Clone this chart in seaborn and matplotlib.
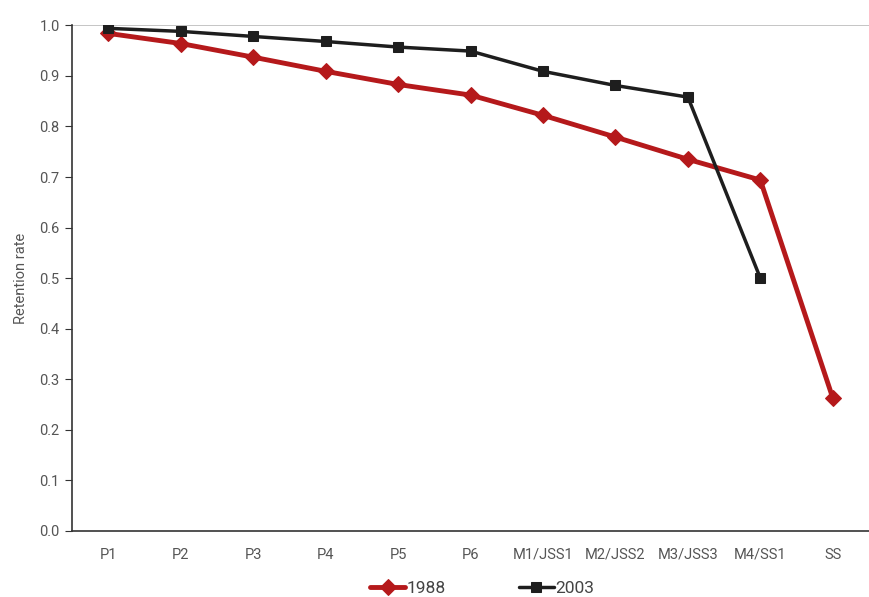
import matplotlib
matplotlib.use("Agg")
import matplotlib.pyplot as plt
import seaborn as sns
import pandas as pd
import numpy as np

grades = ["P1", "P2", "P3", "P4", "P5", "P6", "M1/JSS1", "M2/JSS2", "M3/JSS3", "M4/SS1", "SS"]
rate_1988 = [0.984, 0.964, 0.937, 0.909, 0.883, 0.862, 0.822, 0.779, 0.735, 0.694, 0.263]
rate_2003 = [0.994, 0.988, 0.978, 0.968, 0.957, 0.949, 0.909, 0.881, 0.858, 0.500, np.nan]

df = pd.DataFrame({
    "pos": list(range(len(grades))) * 2,
    "rate": rate_1988 + rate_2003,
    "year": ["1988"] * len(grades) + ["2003"] * len(grades),
}).dropna()

sns.set_style("white")
plt.rcParams["font.family"] = ["Liberation Sans Narrow", "Roboto", "DejaVu Sans"]

fig = plt.figure(figsize=(8.69, 5.97), dpi=100)
ax = fig.add_axes([0.083, 0.1106, 0.917, 0.847])

red = "#b5191b"
black = "#1e1e1e"

sns.lineplot(data=df[df.year == "1988"], x="pos", y="rate", ax=ax, color=red,
             linewidth=3.5, marker="D", markersize=8, markeredgecolor=red, label="1988")
sns.lineplot(data=df[df.year == "2003"], x="pos", y="rate", ax=ax, color=black,
             linewidth=2.5, marker="s", markersize=7, markeredgecolor=black, label="2003")

ax.set_xlim(-0.5, 10.33)
ax.set_ylim(0, 1.0)
ax.set_yticks(np.arange(0, 1.01, 0.1))
ax.set_yticklabels([f"{v:.1f}" for v in np.arange(0, 1.01, 0.1)], fontsize=10.5, color="#555555")
ax.set_xticks(range(len(grades)))
ax.set_xticklabels(grades, fontsize=10.5, color="#555555")
ax.set_xticks(np.arange(-0.5, len(grades), 1), minor=True)
ax.tick_params(axis="x", which="major", length=0, pad=12)
ax.tick_params(axis="x", which="minor", length=5, color="#333333", direction="out")
ax.tick_params(axis="y", length=5, color="#333333", direction="out", left=True, pad=4)
ax.axhline(1.0, color="#bbbbbb", linewidth=1.2, zorder=0)

for s in ["top", "right"]:
    ax.spines[s].set_visible(False)
for s in ["left", "bottom"]:
    ax.spines[s].set_color("#333333")
    ax.spines[s].set_linewidth(1.2)

ax.set_xlabel("")
ax.set_ylabel("Retention rate", fontsize=10.5, color="#555555", labelpad=8)

handles, labels = ax.get_legend_handles_labels()
ax.get_legend().remove()
leg = fig.legend(handles, labels, loc="center", bbox_to_anchor=(0.555, 0.014), ncol=2,
                 frameon=False, fontsize=12.5, handlelength=2.0, columnspacing=4.2,
                 handletextpad=0.1, borderpad=0.1)
for t in leg.get_texts():
    t.set_color("#444444")

fig.savefig("out.png", dpi=100)
